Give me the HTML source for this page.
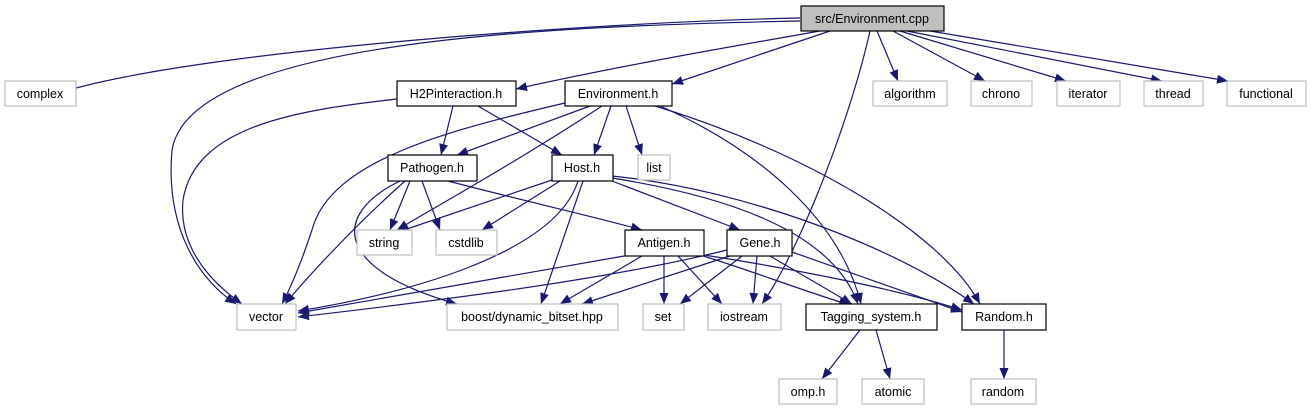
<!DOCTYPE html>
<html><head><meta charset="utf-8"><style>
body{margin:0;background:#fff;}
svg{display:block;}
text{font-family:"Liberation Sans",sans-serif;font-size:12.5px;fill:#000;}
</style></head><body>
<svg width="1312" height="411" viewBox="0 0 1312 411" xmlns="http://www.w3.org/2000/svg">
<defs>
<marker id="a" markerUnits="userSpaceOnUse" markerWidth="12" markerHeight="10" refX="11" refY="5" orient="auto">
<path d="M0,0.5 L11,5 L0,9.5 Z" fill="#191970"/>
</marker>
</defs>
<g fill="none" stroke="#191970" stroke-width="1.2" marker-end="url(#a)">
<path d="M800,18 C600,22 200,50 62,92"/>
<path d="M800,21 C550,26 190,40 172,150 C165,230 200,280 236,304"/>
<path d="M820,31 C700,52 600,70 516,89"/>
<path d="M830,31 L672,84"/>
<path d="M870,31 C850,120 800,250 762,304"/>
<path d="M877,31 L898,81"/>
<path d="M893,31 L985,81"/>
<path d="M900,31 L1066,81"/>
<path d="M907,31 L1162,81"/>
<path d="M930,31 L1228,81"/>
<path d="M397,99 C300,110 195,125 183,200 C178,250 215,285 242,304"/>
<path d="M453,106 L441,155"/>
<path d="M478,106 L562,155"/>
<path d="M565,103 C450,130 330,160 312,230 C302,260 292,285 282,304"/>
<path d="M590,106 L457,155"/>
<path d="M602,106 C520,160 430,210 397,230"/>
<path d="M611,106 L594,155"/>
<path d="M626,106 L642,155"/>
<path d="M660,106 C760,150 840,220 861,304"/>
<path d="M655,106 C800,150 940,230 980,304"/>
<path d="M410,181 L390,230"/>
<path d="M422,181 L440,230"/>
<path d="M405,181 C350,230 305,280 285,304"/>
<path d="M400,181 C330,215 335,270 457,304"/>
<path d="M448,181 C520,200 600,218 642,230"/>
<path d="M552,180 L398,232"/>
<path d="M560,181 L482,230"/>
<path d="M578,181 C555,255 400,295 298,311"/>
<path d="M583,181 L541,304"/>
<path d="M612,181 L740,230"/>
<path d="M612,178 C750,200 835,240 858,304"/>
<path d="M612,176 C750,190 900,250 974,304"/>
<path d="M630,255 L298,313"/>
<path d="M642,256 L560,304"/>
<path d="M664,256 L664,304"/>
<path d="M678,256 L722,304"/>
<path d="M700,255 C750,270 800,290 850,305"/>
<path d="M704,255 C800,270 900,290 962,310"/>
<path d="M727,250 C600,282 400,305 298,317"/>
<path d="M733,255 L582,304"/>
<path d="M742,256 L680,304"/>
<path d="M757,256 L753,304"/>
<path d="M770,256 L852,304"/>
<path d="M792,252 L962,312"/>
<path d="M860,330 L822,379"/>
<path d="M876,330 L890,379"/>
<path d="M1004,330 L1004,379"/>
</g>
<g stroke-width="1.2">
<rect x="801" y="6" width="143" height="25" fill="#bfbfbf" stroke="#000"/>
<g fill="#fff" stroke="#bfbfbf">
<rect x="5" y="81" width="71" height="25"/>
<rect x="873" y="81" width="74" height="25"/>
<rect x="971" y="81" width="61" height="25"/>
<rect x="1057" y="81" width="63" height="25"/>
<rect x="1144" y="81" width="59" height="25"/>
<rect x="1227" y="81" width="79" height="25"/>
<rect x="638" y="155" width="32" height="25"/>
<rect x="357" y="230" width="55" height="25"/>
<rect x="436" y="230" width="61" height="25"/>
<rect x="237" y="304" width="59" height="26"/>
<rect x="447" y="304" width="171" height="26"/>
<rect x="643" y="304" width="41" height="26"/>
<rect x="708" y="304" width="73" height="26"/>
<rect x="779" y="379" width="58" height="25"/>
<rect x="862" y="379" width="62" height="25"/>
<rect x="971" y="379" width="65" height="25"/>
</g>
<g fill="#fff" stroke="#000">
<rect x="397" y="81" width="119" height="25"/>
<rect x="565" y="81" width="107" height="25"/>
<rect x="388" y="155" width="89" height="26"/>
<rect x="552" y="155" width="61" height="26"/>
<rect x="625" y="230" width="79" height="26"/>
<rect x="727" y="230" width="65" height="26"/>
<rect x="806" y="304" width="131" height="26"/>
<rect x="962" y="304" width="84" height="26"/>
</g>
</g>
<g text-anchor="middle">
<text x="872" y="23">src/Environment.cpp</text>
<text x="40" y="98">complex</text>
<text x="456" y="98">H2Pinteraction.h</text>
<text x="618" y="98">Environment.h</text>
<text x="910" y="98">algorithm</text>
<text x="1001" y="98">chrono</text>
<text x="1088" y="98">iterator</text>
<text x="1173" y="98">thread</text>
<text x="1266" y="98">functional</text>
<text x="432" y="172">Pathogen.h</text>
<text x="582" y="172">Host.h</text>
<text x="654" y="172">list</text>
<text x="384" y="247">string</text>
<text x="466" y="247">cstdlib</text>
<text x="664" y="247">Antigen.h</text>
<text x="760" y="247">Gene.h</text>
<text x="266" y="321">vector</text>
<text x="532" y="321">boost/dynamic_bitset.hpp</text>
<text x="663" y="321">set</text>
<text x="744" y="321">iostream</text>
<text x="871" y="321">Tagging_system.h</text>
<text x="1004" y="321">Random.h</text>
<text x="808" y="396">omp.h</text>
<text x="893" y="396">atomic</text>
<text x="1003" y="396">random</text>
</g>
</svg>
</body></html>
